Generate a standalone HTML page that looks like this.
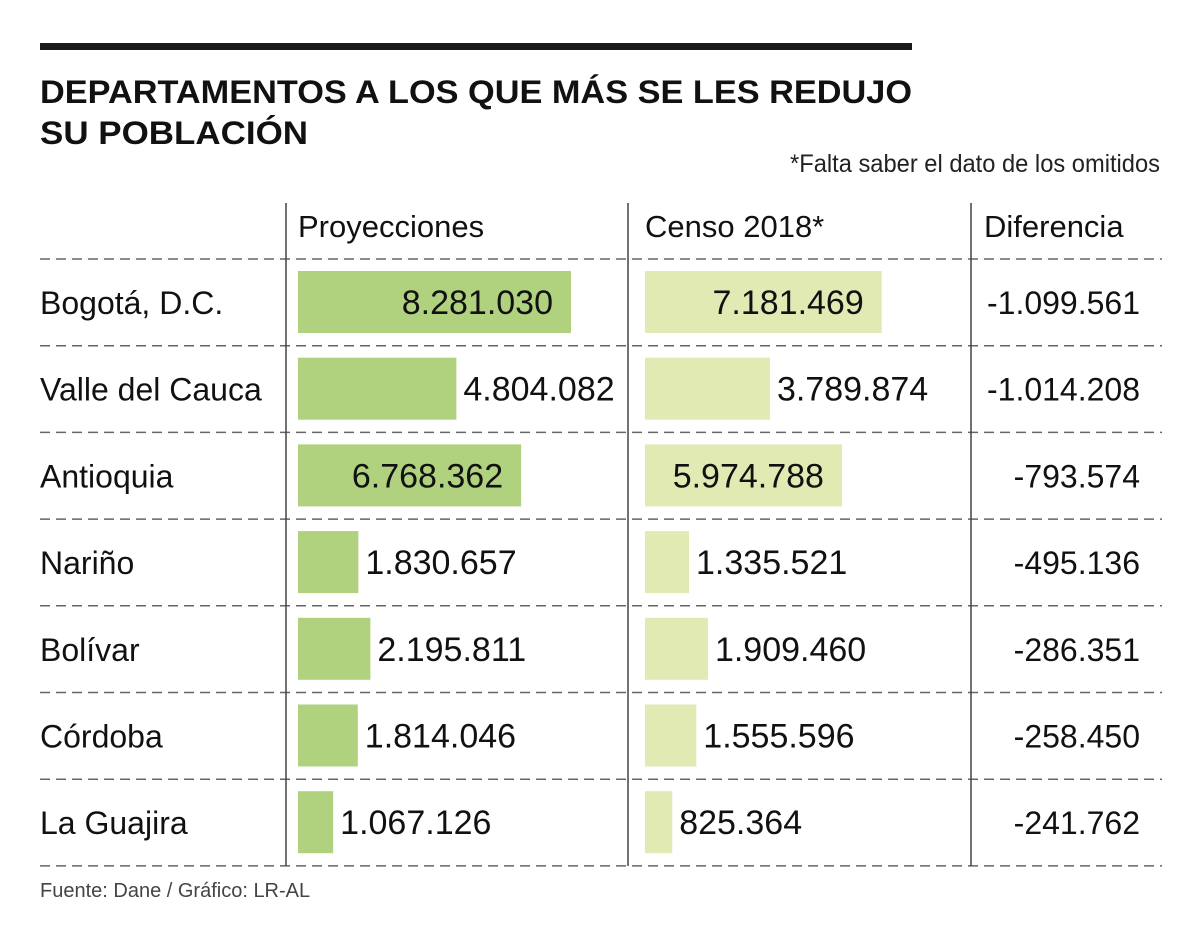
<!DOCTYPE html>
<html><head><meta charset="utf-8"><style>
html,body{margin:0;padding:0;background:#fff;}
svg{display:block;font-family:"Liberation Sans",sans-serif;}
</style></head><body>
<svg id="chart" width="1200" height="948" viewBox="0 0 1200 948">
<rect x="40" y="43" width="872" height="7" fill="#1a1a1a"/>
<text x="40" y="103" font-size="32" font-weight="bold" fill="#111" textLength="872" lengthAdjust="spacingAndGlyphs">DEPARTAMENTOS A LOS QUE MÁS SE LES REDUJO</text>
<text x="40" y="144" font-size="32" font-weight="bold" fill="#111" textLength="268" lengthAdjust="spacingAndGlyphs">SU POBLACIÓN</text>
<text x="1160" y="172" font-size="25" fill="#222" text-anchor="end" textLength="370" lengthAdjust="spacingAndGlyphs">*Falta saber el dato de los omitidos</text>
<g id="grid"></g>
<text x="298" y="237" font-size="31" fill="#111">Proyecciones</text>
<text x="645" y="237" font-size="31" fill="#111">Censo 2018*</text>
<text x="984" y="237" font-size="31" fill="#111">Diferencia</text>
<g id="rows"></g>
<text x="40" y="897" font-size="20" fill="#444">Fuente: Dane / Gráfico: LR-AL</text>
</svg>
<script>
const departments = ["Bogotá, D.C.","Valle del Cauca","Antioquia","Nariño","Bolívar","Córdoba","La Guajira"];
const proyecciones = [8281030,4804082,6768362,1830657,2195811,1814046,1067126];
const censo = [7181469,3789874,5974788,1335521,1909460,1555596,825364];
const diferencia = [-1099561,-1014208,-793574,-495136,-286351,-258450,-241762];

const NS="http://www.w3.org/2000/svg";
const rowTop=259, rowH=86.7, scale=273/8281030;
const projX=298, censoX=645;
function fmt(v){const s=Math.abs(v).toString().replace(/\B(?=(\d{3})+(?!\d))/g,".");return (v<0?"-":"")+s;}
function mk(tag,attrs,parent){const e=document.createElementNS(NS,tag);for(const k in attrs)e.setAttribute(k,attrs[k]);parent.appendChild(e);return e;}
const grid=document.getElementById('grid'), rows=document.getElementById('rows');
for(let i=0;i<=departments.length;i++){
  const y=rowTop+i*rowH;
  const l=mk('line',{x1:40,x2:1162,y1:y,y2:y,stroke:'#666','stroke-width':1.5,'stroke-dasharray':'10 6'},grid);
  
  
}
[286,628,971].forEach(x=>{
  const l=mk('line',{x1:x,x2:x,y1:203,y2:866,stroke:'#444','stroke-width':1.5},grid);
  
  
});
function bar(x0,v,y,color,name){
  const w=v*scale;
  const r=mk('rect',{x:x0,y:y+12,width:w,height:62,fill:color},rows);
  
  
  const inside=v>5500000;
  const t=mk('text',{x:inside?x0+w-18:x0+w+7,y:y+55,'font-size':34,fill:'#111','text-anchor':inside?'end':'start'},rows);
  t.textContent=fmt(v);
  
  
}
departments.forEach((d,i)=>{
  const y=rowTop+i*rowH;
  const t=mk('text',{x:40,y:y+55,'font-size':32,fill:'#111'},rows);
  t.textContent=d;
  
  
  bar(projX,proyecciones[i],y,'#b0d17e','proyecciones');
  bar(censoX,censo[i],y,'#e2eab4','censo');
  const dt=mk('text',{x:1140,y:y+55,'font-size':32,fill:'#111','text-anchor':'end'},rows);
  dt.textContent=fmt(diferencia[i]);
  
  
});
</script>
</body></html>
